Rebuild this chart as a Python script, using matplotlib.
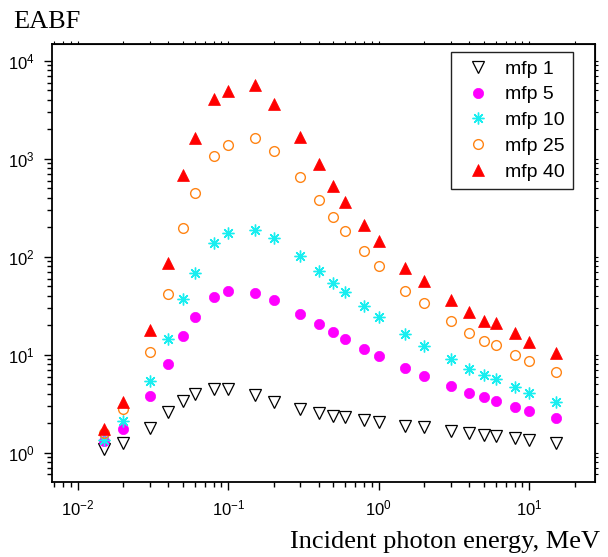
import matplotlib
matplotlib.use("Agg")
import matplotlib.pyplot as plt

plt.rcParams['font.family'] = ['Liberation Sans', 'DejaVu Sans']
plt.rcParams['mathtext.default'] = 'regular'

energy = [0.015, 0.02, 0.03, 0.04, 0.05, 0.06, 0.08, 0.1, 0.15, 0.2, 0.3, 0.4, 0.5,
          0.6, 0.8, 1, 1.5, 2, 3, 4, 5, 6, 8, 10, 15]
mfp1 = [1.10, 1.26, 1.80, 2.58, 3.39, 3.97, 4.47, 4.47, 3.88, 3.29, 2.82, 2.56, 2.39,
        2.30, 2.16, 2.06, 1.89, 1.82, 1.66, 1.58, 1.53, 1.48, 1.40, 1.35, 1.25]
mfp5 = [1.32, 1.73, 3.76, 8.04, 15.5, 24.1, 38.5, 45.0, 42.9, 36.2, 26.1, 20.6, 17.0,
        14.6, 11.5, 9.7, 7.31, 6.06, 4.80, 4.09, 3.67, 3.40, 2.94, 2.64, 2.24]
mfp10 = [1.35, 2.11, 5.39, 14.6, 37.3, 68.7, 137, 176, 187, 155, 102, 71.9, 54.3,
         43.6, 31.4, 24.1, 16.2, 12.4, 8.98, 7.20, 6.25, 5.61, 4.65, 4.09, 3.27]
mfp25 = [1.58, 2.77, 10.6, 41.9, 195, 444, 1073, 1390, 1637, 1207, 650, 385, 254,
         184, 114, 80.4, 44.7, 33.4, 21.9, 16.8, 13.9, 12.6, 9.93, 8.57, 6.71]
mfp40 = [1.76, 3.31, 17.9, 86.9, 682, 1652, 4065, 4910, 5740, 3614, 1665, 883, 527,
         364, 209, 146, 77.3, 56.5, 36.2, 27.1, 22.2, 21.2, 16.5, 13.6, 10.5]
labels = ['mfp 1', 'mfp 5', 'mfp 10', 'mfp 25', 'mfp 40']

fig = plt.figure(figsize=(6.08, 5.57), dpi=100)
ax = fig.add_axes([0.085, 0.1352, 0.8936, 0.7858])

ax.plot(energy, mfp1, linestyle='none', marker='v', markersize=9,
        markerfacecolor='white', markeredgecolor='black', markeredgewidth=0.9,
        label=labels[0])
ax.plot(energy, mfp5, linestyle='none', marker='o', markersize=7.4,
        markerfacecolor='#ff00ff', markeredgecolor='#ff00ff', markeredgewidth=0.5,
        label=labels[1])
ax.plot(energy, mfp10, linestyle='none', marker=(8, 2, 0), markersize=8.5,
        markeredgecolor='#19eef0', markerfacecolor='#19eef0', markeredgewidth=1.0,
        label=labels[2])
ax.plot(energy, mfp25, linestyle='none', marker='o', markersize=7,
        markerfacecolor='none', markeredgecolor='#ff8414', markeredgewidth=1.0,
        label=labels[3])
ax.plot(energy, mfp40, linestyle='none', marker='^', markersize=9,
        markerfacecolor='#ff0000', markeredgecolor='#ff0000', markeredgewidth=0.5,
        label=labels[4])

ax.set_xscale('log')
ax.set_yscale('log')
ax.set_xlim(0.00672, 27.3)
ax.set_ylim(0.506, 14900)

for s in ax.spines.values():
    s.set_linewidth(1.3)

ax.tick_params(axis='both', which='major', direction='out', length=6, width=1.0,
               labelsize=12, top=False, right=False)
ax.tick_params(axis='both', which='minor', direction='out', length=3.5, width=1.0,
               top=False, right=False)
ax.tick_params(axis='x', which='major', pad=6)
ax.tick_params(axis='y', which='major', pad=6)

secx = ax.secondary_xaxis('top')
secx.tick_params(axis='x', which='both', direction='out', length=2, width=0.8,
                 labeltop=False)
secy = ax.secondary_yaxis('right')
secy.tick_params(axis='y', which='both', direction='out', length=2, width=0.8,
                 labelright=False)

leg = ax.legend(loc='upper right', bbox_to_anchor=(0.959, 0.981), borderaxespad=0,
                fontsize=14, numpoints=1, fancybox=False, framealpha=1,
                edgecolor='#222222', borderpad=0.4, handlelength=2.0,
                handletextpad=0.4, labelspacing=0.42)
leg.get_frame().set_linewidth(1.0)

fig.text(13 / 608, 1 - 28 / 557, 'EABF', family=['Liberation Serif'], fontsize=19,
         ha='left', va='baseline')
fig.text(600 / 608, 1 - 548 / 557, 'Incident photon energy, MeV',
         family=['Liberation Serif'], fontsize=19, ha='right', va='baseline')

fig.savefig('out.png', dpi=100)
